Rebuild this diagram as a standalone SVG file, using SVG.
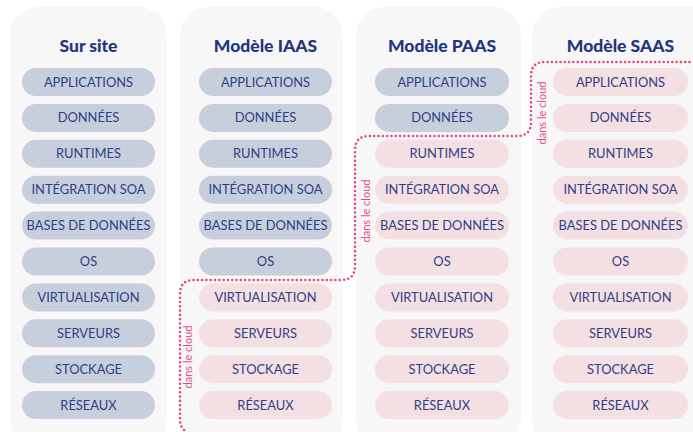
<svg xmlns="http://www.w3.org/2000/svg" width="693" height="432" viewBox="0 0 693 432">
<style>
.panel{fill:#f7f7f7}
.title{font-family:Lato,"Liberation Sans",sans-serif;font-weight:900;font-size:17.5px;fill:#23357d;text-anchor:middle}
.g{fill:#c8cfdc}
.p{fill:#f4e0e3}
.t{font-family:Lato,"Liberation Sans",sans-serif;font-size:12.9px;fill:#2f3f86;text-anchor:middle}
.cl{font-family:Lato,"Liberation Sans",sans-serif;font-size:11px;fill:#e9507a;text-anchor:middle}
.dot{fill:none;stroke:#e9487a;stroke-width:2.6;stroke-linecap:round;stroke-dasharray:0 4.3}
</style>
<rect width="693" height="432" fill="#ffffff"/>
<g id="col-sursite">
<rect class="panel" x="10" y="7" width="157" height="440" rx="28"/>
<text class="title" x="88.5" y="52">Sur site</text>
<g id="s1"><rect class="g" x="22" y="68" width="133" height="28" rx="14"/><text class="t" x="88.5" y="86.5">APPLICATIONS</text></g>
<g id="s2"><rect class="g" x="22" y="103.9" width="133" height="28" rx="14"/><text class="t" x="88.5" y="122.4">DONNÉES</text></g>
<g id="s3"><rect class="g" x="22" y="139.8" width="133" height="28" rx="14"/><text class="t" x="88.5" y="158.3">RUNTIMES</text></g>
<g id="s4"><rect class="g" x="22" y="175.7" width="133" height="28" rx="14"/><text class="t" x="88.5" y="194.2">INTÉGRATION SOA</text></g>
<g id="s5"><rect class="g" x="22" y="211.6" width="133" height="28" rx="14"/><text class="t" x="88.5" y="230.1">BASES DE DONNÉES</text></g>
<g id="s6"><rect class="g" x="22" y="247.5" width="133" height="28" rx="14"/><text class="t" x="88.5" y="266">OS</text></g>
<g id="s7"><rect class="g" x="22" y="283.4" width="133" height="28" rx="14"/><text class="t" x="88.5" y="301.9">VIRTUALISATION</text></g>
<g id="s8"><rect class="g" x="22" y="319.3" width="133" height="28" rx="14"/><text class="t" x="88.5" y="337.8">SERVEURS</text></g>
<g id="s9"><rect class="g" x="22" y="355.2" width="133" height="28" rx="14"/><text class="t" x="88.5" y="373.7">STOCKAGE</text></g>
<g id="s10"><rect class="g" x="22" y="391.1" width="133" height="28" rx="14"/><text class="t" x="88.5" y="409.6">RÉSEAUX</text></g>
</g>
<g id="col-iaas">
<rect class="panel" x="180" y="7" width="163" height="440" rx="28"/>
<text class="title" x="265.5" y="52">Modèle IAAS</text>
<g id="i1"><rect class="g" x="199" y="68" width="133" height="28" rx="14"/><text class="t" x="265.5" y="86.5">APPLICATIONS</text></g>
<g id="i2"><rect class="g" x="199" y="103.9" width="133" height="28" rx="14"/><text class="t" x="265.5" y="122.4">DONNÉES</text></g>
<g id="i3"><rect class="g" x="199" y="139.8" width="133" height="28" rx="14"/><text class="t" x="265.5" y="158.3">RUNTIMES</text></g>
<g id="i4"><rect class="g" x="199" y="175.7" width="133" height="28" rx="14"/><text class="t" x="265.5" y="194.2">INTÉGRATION SOA</text></g>
<g id="i5"><rect class="g" x="199" y="211.6" width="133" height="28" rx="14"/><text class="t" x="265.5" y="230.1">BASES DE DONNÉES</text></g>
<g id="i6"><rect class="g" x="199" y="247.5" width="133" height="28" rx="14"/><text class="t" x="265.5" y="266">OS</text></g>
<g id="i7"><rect class="p" x="199" y="283.4" width="133" height="28" rx="14"/><text class="t" x="265.5" y="301.9">VIRTUALISATION</text></g>
<g id="i8"><rect class="p" x="199" y="319.3" width="133" height="28" rx="14"/><text class="t" x="265.5" y="337.8">SERVEURS</text></g>
<g id="i9"><rect class="p" x="199" y="355.2" width="133" height="28" rx="14"/><text class="t" x="265.5" y="373.7">STOCKAGE</text></g>
<g id="i10"><rect class="p" x="199" y="391.1" width="133" height="28" rx="14"/><text class="t" x="265.5" y="409.6">RÉSEAUX</text></g>
</g>
<g id="col-paas">
<rect class="panel" x="356" y="7" width="165" height="440" rx="28"/>
<text class="title" x="442" y="52">Modèle PAAS</text>
<g id="p1"><rect class="g" x="375" y="68" width="134" height="28" rx="14"/><text class="t" x="442" y="86.5">APPLICATIONS</text></g>
<g id="p2"><rect class="g" x="375" y="103.9" width="134" height="28" rx="14"/><text class="t" x="442" y="122.4">DONNÉES</text></g>
<g id="p3"><rect class="p" x="375" y="139.8" width="134" height="28" rx="14"/><text class="t" x="442" y="158.3">RUNTIMES</text></g>
<g id="p4"><rect class="p" x="375" y="175.7" width="134" height="28" rx="14"/><text class="t" x="442" y="194.2">INTÉGRATION SOA</text></g>
<g id="p5"><rect class="p" x="375" y="211.6" width="134" height="28" rx="14"/><text class="t" x="442" y="230.1">BASES DE DONNÉES</text></g>
<g id="p6"><rect class="p" x="375" y="247.5" width="134" height="28" rx="14"/><text class="t" x="442" y="266">OS</text></g>
<g id="p7"><rect class="p" x="375" y="283.4" width="134" height="28" rx="14"/><text class="t" x="442" y="301.9">VIRTUALISATION</text></g>
<g id="p8"><rect class="p" x="375" y="319.3" width="134" height="28" rx="14"/><text class="t" x="442" y="337.8">SERVEURS</text></g>
<g id="p9"><rect class="p" x="375" y="355.2" width="134" height="28" rx="14"/><text class="t" x="442" y="373.7">STOCKAGE</text></g>
<g id="p10"><rect class="p" x="375" y="391.1" width="134" height="28" rx="14"/><text class="t" x="442" y="409.6">RÉSEAUX</text></g>
</g>
<g id="col-saas">
<rect class="panel" x="532" y="7" width="190" height="440" rx="28"/>
<text class="title" x="620.5" y="52">Modèle SAAS</text>
<g id="a1"><rect class="p" x="553" y="68" width="135" height="28" rx="14"/><text class="t" x="620.5" y="86.5">APPLICATIONS</text></g>
<g id="a2"><rect class="p" x="553" y="103.9" width="135" height="28" rx="14"/><text class="t" x="620.5" y="122.4">DONNÉES</text></g>
<g id="a3"><rect class="p" x="553" y="139.8" width="135" height="28" rx="14"/><text class="t" x="620.5" y="158.3">RUNTIMES</text></g>
<g id="a4"><rect class="p" x="553" y="175.7" width="135" height="28" rx="14"/><text class="t" x="620.5" y="194.2">INTÉGRATION SOA</text></g>
<g id="a5"><rect class="p" x="553" y="211.6" width="135" height="28" rx="14"/><text class="t" x="620.5" y="230.1">BASES DE DONNÉES</text></g>
<g id="a6"><rect class="p" x="553" y="247.5" width="135" height="28" rx="14"/><text class="t" x="620.5" y="266">OS</text></g>
<g id="a7"><rect class="p" x="553" y="283.4" width="135" height="28" rx="14"/><text class="t" x="620.5" y="301.9">VIRTUALISATION</text></g>
<g id="a8"><rect class="p" x="553" y="319.3" width="135" height="28" rx="14"/><text class="t" x="620.5" y="337.8">SERVEURS</text></g>
<g id="a9"><rect class="p" x="553" y="355.2" width="135" height="28" rx="14"/><text class="t" x="620.5" y="373.7">STOCKAGE</text></g>
<g id="a10"><rect class="p" x="553" y="391.1" width="135" height="28" rx="14"/><text class="t" x="620.5" y="409.6">RÉSEAUX</text></g>
</g>
<g id="connectors">
<path class="dot" d="M184,430 Q180,426 180,420 L180,294 Q180,280 194,280 L341,280 Q355,280 355,266 L355,150 Q355,136 369,136 L517,136 Q531,136 531,122 L531,76 Q531,62 545,62 L693,62"/>
<text class="cl" transform="translate(191.5,357) rotate(-90)">dans le cloud</text>
<text class="cl" transform="translate(369.5,211) rotate(-90)">dans le cloud</text>
<text class="cl" transform="translate(545.5,113) rotate(-90)">dans le cloud</text>
</g>
</svg>
